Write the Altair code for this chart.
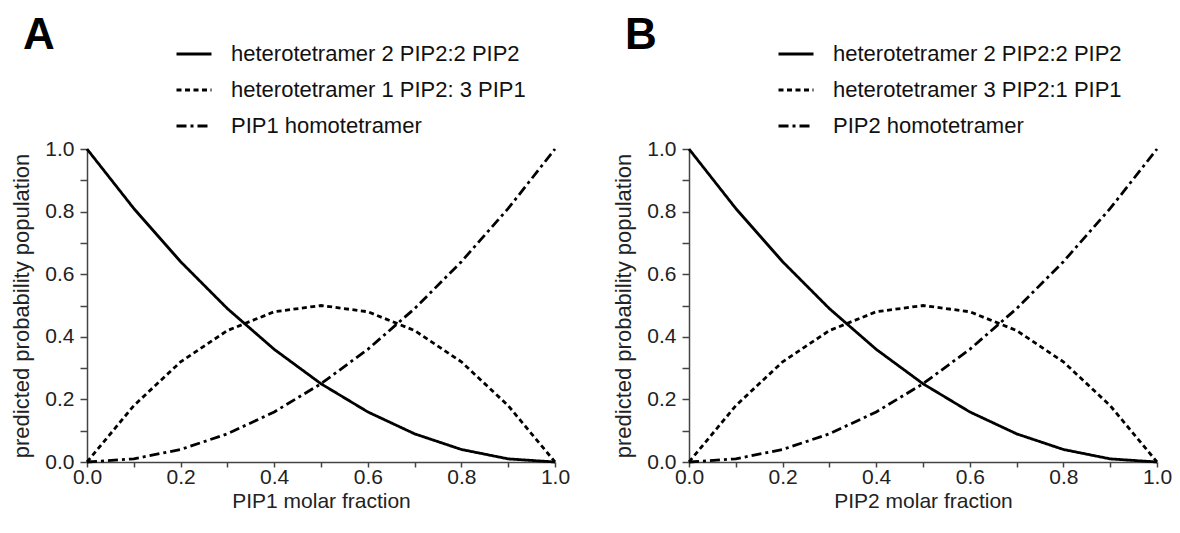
import altair as alt
import pandas as pd

# ---- data ----
fraction = [0.0, 0.1, 0.2, 0.3, 0.4, 0.5, 0.6, 0.7, 0.8, 0.9, 1.0]
hetero_2_2 = [1.0, 0.81, 0.64, 0.49, 0.36, 0.25, 0.16, 0.09, 0.04, 0.01, 0.0]
hetero_mixed = [0.0, 0.18, 0.32, 0.42, 0.48, 0.50, 0.48, 0.42, 0.32, 0.18, 0.0]
homotetramer = [0.0, 0.01, 0.04, 0.09, 0.16, 0.25, 0.36, 0.49, 0.64, 0.81, 1.0]

tick_values = [0.0, 0.1, 0.2, 0.3, 0.4, 0.5, 0.6, 0.7, 0.8, 0.9, 1.0]

series_a = ["heterotetramer 2 PIP2:2 PIP2", "heterotetramer 1 PIP2: 3 PIP1", "PIP1 homotetramer"]
series_b = ["heterotetramer 2 PIP2:2 PIP2", "heterotetramer 3 PIP2:1 PIP1", "PIP2 homotetramer"]
x_titles = ["PIP1 molar fraction", "PIP2 molar fraction"]
letters = ["A", "B"]
y_title = "predicted probability population"

FONT = "Liberation Sans"
DASHES = [[1, 0], [5, 3.5], [10, 4, 3, 4]]
label_expr = "round(datum.value * 10) % 2 == 0 ? format(datum.value, '.1f') : ''"


def panel(names, xtitle, letter, width):
    rows = []
    for vals, name in zip([hetero_2_2, hetero_mixed, homotetramer], names):
        for xv, yv in zip(fraction, vals):
            rows.append({"x": xv, "p": yv, "series": name})
    df = pd.DataFrame(rows)

    lines = alt.Chart(df).mark_line(color="black", strokeWidth=2.8, clip=False).encode(
        x=alt.X("x:Q", scale=alt.Scale(domain=[0, 1], nice=False),
                axis=alt.Axis(values=tick_values, labelExpr=label_expr, title=xtitle,
                              grid=False, tickSize=5, labelPadding=-1, titlePadding=3,
                              titleFontSize=21, labelFlush=False)),
        y=alt.Y("p:Q", scale=alt.Scale(domain=[0, 1], nice=False),
                axis=alt.Axis(values=tick_values, labelExpr=label_expr, title=y_title,
                              grid=False, tickSize=7, labelPadding=6, titlePadding=11,
                              titleFontSize=22, labelFlush=False)),
        strokeDash=alt.StrokeDash(
            "series:N",
            scale=alt.Scale(domain=names, range=DASHES),
            legend=alt.Legend(orient="none", legendX=88, legendY=-114, title=None,
                              symbolType="stroke", symbolSize=1225, symbolStrokeWidth=2.8,
                              symbolStrokeColor="black", labelFontSize=22, labelFont=FONT,
                              labelColor="#111", labelOffset=18, rowPadding=6, padding=0,
                              labelLimit=0),
        ),
        order=alt.Order("x:Q"),
    )

    lab = alt.Chart(pd.DataFrame({"t": [letter]})).mark_text(
        fontSize=44, fontWeight="bold", font=FONT, align="left", baseline="alphabetic",
        color="black").encode(x=alt.value(-64), y=alt.value(-100), text="t:N")

    return alt.layer(lines, lab).properties(width=width, height=313)


chart = alt.hconcat(
    panel(series_a, x_titles[0], letters[0], 468),
    panel(series_b, x_titles[1], letters[1], 468),
    spacing=42,
).resolve_scale(strokeDash="independent", x="independent", y="independent").resolve_legend(
    strokeDash="independent"
).configure_view(stroke=None).configure_axis(
    domainColor="#444", tickColor="#444", domainWidth=1.5, tickWidth=1.5,
    labelFont=FONT, titleFont=FONT, labelFontSize=21,
    labelColor="#222", titleColor="#222", titleFontWeight="normal",
).properties(padding={"left": 2, "top": 6, "right": 0, "bottom": 0})

chart.save("out.html", embed_options={"renderer": "svg", "actions": False})
